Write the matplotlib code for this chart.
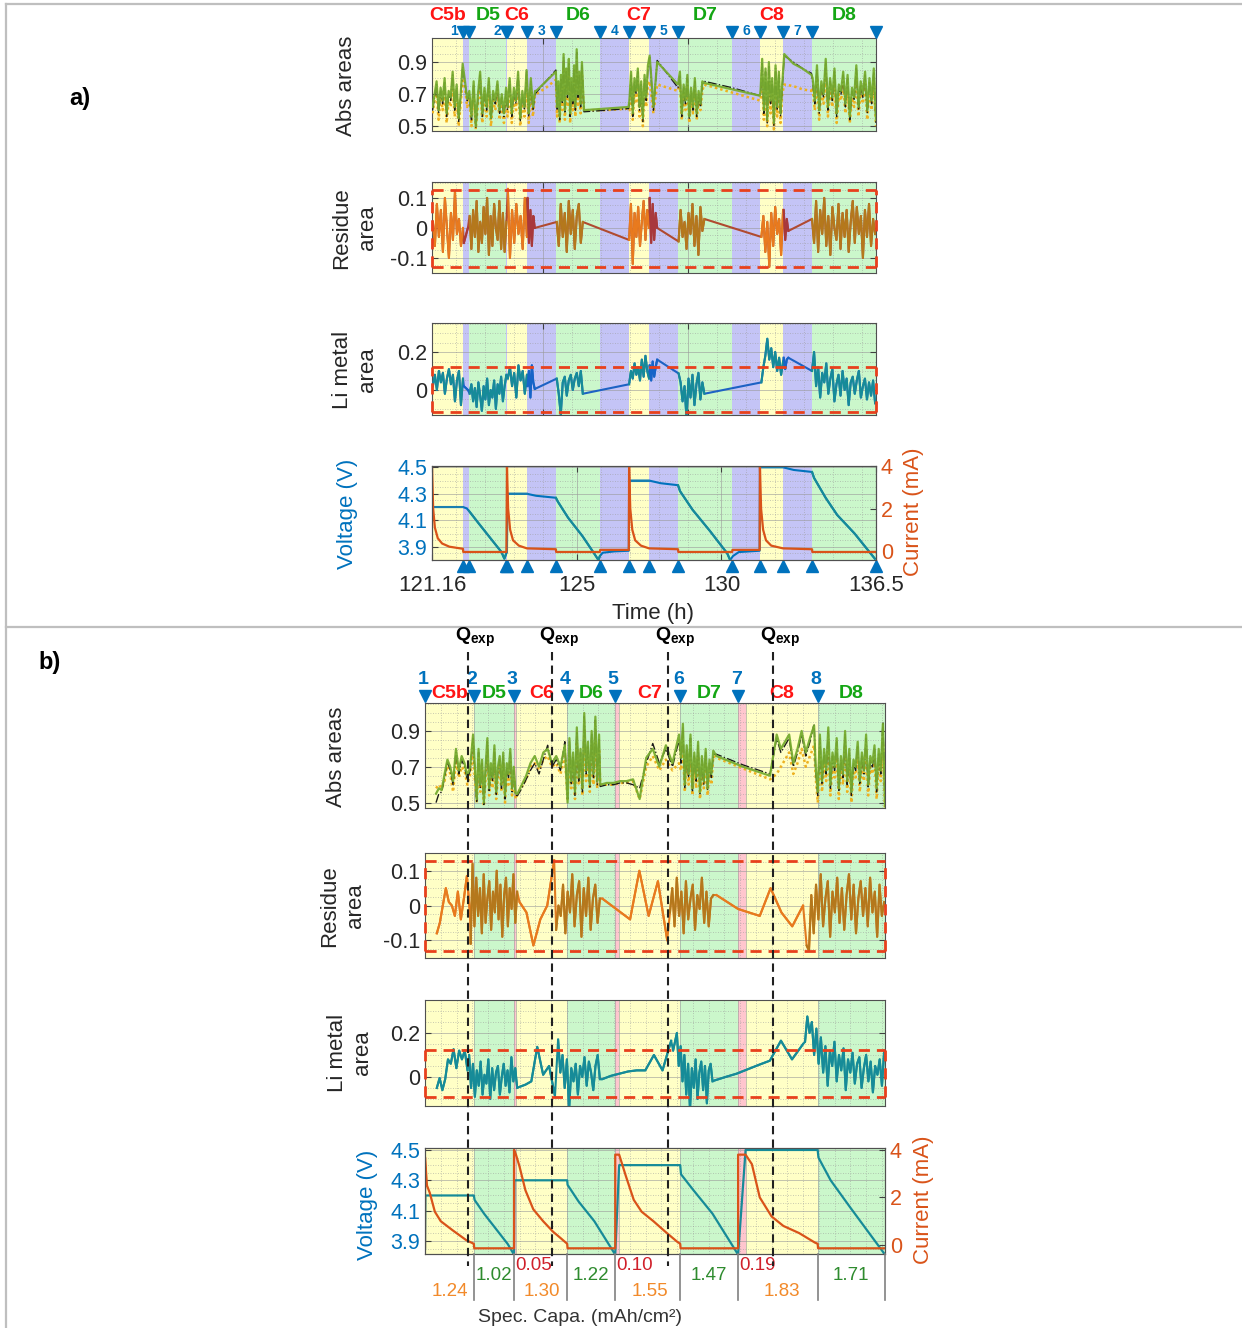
import numpy as np
import matplotlib
matplotlib.use("Agg")
import matplotlib.pyplot as plt
from matplotlib.ticker import AutoMinorLocator, MultipleLocator
from matplotlib import transforms as mtransforms

plt.rcParams['font.family'] = ['Liberation Sans', 'DejaVu Sans']
plt.rcParams['axes.unicode_minus'] = False
plt.rcParams['mathtext.fontset'] = 'custom'
plt.rcParams['mathtext.rm'] = 'Liberation Sans'
plt.rcParams['mathtext.bf'] = 'Liberation Sans:bold'

# ---------------- panel a) : time axis (h) ----------------
a_bounds = [121.16, 122.23, 122.44, 123.73, 123.75, 124.44, 125.44, 126.96,
            127.97, 128.66, 129.66, 131.53, 132.49, 133.29, 134.29, 136.5]
a_phases = ['C', 'R', 'D', 'R', 'C', 'R', 'D', 'R', 'C', 'R', 'D', 'R', 'C', 'R', 'D']
a_cycles = ['C5b', 'D5', 'C6', 'D6', 'C7', 'D7', 'C8', 'D8']
a_rest_labels = ['1', '2', '3', '4', '5', '6', '7']
a_tick_pos = [121.16, 126.16, 131.16, 136.5]
a_tick_lab = ['121.16', '125', '130', '136.5']

a_abs_span = [(121.18, 122.22), (122.30, 123.72), (123.77, 124.72), (124.76, 125.44),
              (125.48, 126.34), (126.41, 127.95), (127.98, 128.62), (128.68, 128.94),
              (129.66, 130.50), (130.56, 132.49), (132.51, 133.26), (133.33, 134.27),
              (134.31, 136.50)]
a_abs_green = [
    [0.62, 0.70, 0.78, 0.60, 0.74, 0.66, 0.80, 0.58, 0.72, 0.68, 0.84, 0.62, 0.76, 0.55, 0.70, 0.89],
    [0.78, 0.67, 0.72, 0.56, 0.78, 0.50, 0.70, 0.84, 0.58, 0.74, 0.62, 0.80, 0.55, 0.72, 0.66, 0.78, 0.60, 0.70, 0.58, 0.74],
    [0.62, 0.80, 0.58, 0.74, 0.66, 0.84, 0.55, 0.72, 0.62, 0.85, 0.58, 0.80, 0.62, 0.72],
    [0.72, 0.78, 0.84],
    [0.62, 0.78, 0.56, 0.82, 0.66, 0.95, 0.60, 0.86, 0.70, 0.92, 0.58, 0.80, 0.66, 0.88, 0.62, 0.98, 0.70, 0.84, 0.64, 0.90],
    [0.60, 0.61, 0.62],
    [0.66, 0.84, 0.58, 0.80, 0.72, 0.86, 0.62, 0.78, 0.55, 0.82, 0.68, 0.88],
    [0.94, 0.62, 0.90],
    [0.76, 0.84, 0.58, 0.76, 0.66, 0.82, 0.56, 0.74, 0.62, 0.80, 0.58, 0.72, 0.64, 0.78],
    [0.77, 0.73, 0.69],
    [0.72, 0.92, 0.60, 0.86, 0.54, 0.90, 0.66, 0.80, 0.52, 0.88, 0.62, 0.84, 0.58, 0.76],
    [0.95, 0.89, 0.86, 0.82],
    [0.80, 0.66, 0.88, 0.60, 0.78, 0.70, 0.92, 0.62, 0.80, 0.68, 0.86, 0.58, 0.76, 0.72, 0.84,
     0.64, 0.82, 0.56, 0.74, 0.68, 0.88, 0.62, 0.78, 0.70, 0.84, 0.60, 0.80, 0.66, 0.86, 0.54],
]
a_abs_black = [
    [0.60, 0.68, 0.76, 0.58, 0.72, 0.64, 0.78, 0.56, 0.70, 0.66, 0.82, 0.60, 0.74, 0.53, 0.68, 0.87],
    [0.77, 0.66, 0.70, 0.54, 0.76, 0.49, 0.68, 0.82, 0.56, 0.72, 0.60, 0.78, 0.54, 0.70, 0.64, 0.76, 0.58, 0.68, 0.56, 0.72],
    [0.60, 0.78, 0.56, 0.72, 0.64, 0.82, 0.53, 0.70, 0.60, 0.84, 0.56, 0.78, 0.60, 0.70],
    [0.71, 0.78, 0.85],
    [0.60, 0.76, 0.54, 0.80, 0.64, 0.93, 0.58, 0.84, 0.68, 0.90, 0.56, 0.78, 0.64, 0.86, 0.60, 0.96, 0.68, 0.82, 0.62, 0.88],
    [0.59, 0.60, 0.61],
    [0.64, 0.82, 0.56, 0.78, 0.70, 0.84, 0.60, 0.76, 0.53, 0.80, 0.66, 0.86],
    [0.93, 0.60, 0.91],
    [0.74, 0.82, 0.56, 0.74, 0.64, 0.80, 0.55, 0.72, 0.60, 0.78, 0.56, 0.70, 0.62, 0.76],
    [0.78, 0.74, 0.69],
    [0.70, 0.90, 0.58, 0.84, 0.52, 0.88, 0.64, 0.78, 0.50, 0.86, 0.60, 0.82, 0.56, 0.74],
    [0.94, 0.90, 0.86, 0.83],
    [0.78, 0.64, 0.86, 0.58, 0.76, 0.68, 0.90, 0.60, 0.78, 0.66, 0.84, 0.56, 0.74, 0.70, 0.82,
     0.62, 0.80, 0.54, 0.72, 0.66, 0.86, 0.60, 0.76, 0.68, 0.82, 0.58, 0.78, 0.64, 0.84, 0.52],
]
a_abs_orange = [
    [0.58, 0.66, 0.72, 0.54, 0.70, 0.60, 0.74, 0.52, 0.66, 0.62, 0.78, 0.56, 0.70, 0.50, 0.64, 0.80],
    [0.74, 0.62, 0.68, 0.50, 0.72, 0.48, 0.64, 0.78, 0.52, 0.70, 0.56, 0.74, 0.50, 0.66, 0.60, 0.72, 0.54, 0.64, 0.52, 0.68],
    [0.56, 0.74, 0.52, 0.68, 0.60, 0.78, 0.50, 0.66, 0.56, 0.76, 0.52, 0.72, 0.56, 0.70],
    [0.70, 0.74, 0.79],
    [0.56, 0.72, 0.52, 0.76, 0.60, 0.86, 0.54, 0.78, 0.62, 0.84, 0.52, 0.74, 0.60, 0.80, 0.56, 0.88, 0.62, 0.76, 0.58, 0.82],
    [0.60, 0.60, 0.61],
    [0.60, 0.76, 0.54, 0.72, 0.64, 0.78, 0.56, 0.72, 0.50, 0.74, 0.62, 0.76],
    [0.78, 0.58, 0.76],
    [0.72, 0.78, 0.54, 0.70, 0.60, 0.76, 0.52, 0.68, 0.58, 0.74, 0.54, 0.66, 0.60, 0.72],
    [0.76, 0.71, 0.66],
    [0.66, 0.80, 0.54, 0.76, 0.50, 0.78, 0.58, 0.72, 0.48, 0.76, 0.56, 0.74, 0.52, 0.70],
    [0.76, 0.75, 0.73, 0.72],
    [0.74, 0.60, 0.80, 0.54, 0.72, 0.64, 0.84, 0.56, 0.74, 0.62, 0.78, 0.52, 0.70, 0.66, 0.76,
     0.58, 0.74, 0.52, 0.68, 0.62, 0.80, 0.56, 0.72, 0.64, 0.78, 0.54, 0.74, 0.60, 0.78, 0.50],
]

a_line_span = [(121.19, 122.23), (122.26, 122.40), (122.46, 123.73), (123.78, 124.44),
               (124.46, 124.71), (125.47, 126.37), (127.97, 128.66), (128.68, 128.94),
               (129.68, 130.57), (132.54, 133.29), (133.31, 133.47), (134.29, 136.47)]
a_line_phase = ['C', 'R', 'D', 'C', 'R', 'D', 'C', 'R', 'D', 'C', 'R', 'D']
a_res = [
    [0.02, -0.06, 0.08, -0.03, 0.06, -0.08, 0.10, 0.00, -0.10, 0.05, -0.04, 0.12, -0.02, 0.03, -0.06, 0.00],
    [-0.05, 0.00],
    [0.04, -0.07, 0.06, -0.03, 0.09, -0.08, 0.02, -0.05, 0.07, -0.02, 0.10, -0.09, 0.04, -0.06, 0.08,
     0.00, -0.04, 0.09, -0.07, 0.05, -0.08, 0.02],
    [0.13, -0.10, 0.06, -0.05, 0.08, -0.02, 0.04, -0.07, 0.10, -0.03],
    [0.10, -0.05, 0.06, -0.06, 0.04, 0.00],
    [0.02, -0.06, 0.08, -0.03, 0.05, -0.08, 0.09, -0.02, 0.06, -0.07, 0.04, 0.08, -0.05, 0.02],
    [-0.04, 0.08, -0.12, 0.05, -0.03, 0.07, -0.06, 0.02, 0.09, -0.04, 0.06, 0.00],
    [0.10, -0.05, 0.08, -0.04, 0.05, 0.00],
    [-0.045, 0.06, -0.03, 0.02, -0.07, 0.05, -0.02, 0.08, -0.06, 0.04, -0.09, 0.07, -0.01, 0.03],
    [-0.03, 0.04, -0.08, 0.02, -0.13, 0.05, -0.06, 0.07, -0.02, 0.03, -0.09, 0.06],
    [0.06, -0.04, 0.03, -0.01],
    [0.03, -0.05, 0.09, -0.08, 0.06, -0.02, 0.10, -0.06, 0.04, -0.09, 0.07, 0.00, -0.04, 0.08, -0.07,
     0.05, -0.03, 0.06, -0.08, 0.02, 0.09, -0.05, 0.07, -0.02, 0.04, -0.10, 0.06, -0.03, 0.08, -0.06, 0.03, -0.02],
]
a_li = [
    [0.02, 0.08, 0.00, 0.10, 0.04, 0.09, -0.02, 0.06, 0.11, 0.03, 0.08, -0.06, 0.05, 0.10, -0.08, 0.06],
    [0.02, 0.00],
    [-0.02, 0.03, -0.06, 0.01, -0.09, 0.04, -0.03, -0.11, 0.02, -0.05, 0.06, -0.08, 0.00, -0.04, 0.05,
     -0.10, 0.03, -0.02, 0.07, -0.06, 0.02, 0.08],
    [0.06, 0.12, 0.02, 0.09, -0.04, 0.13, 0.05, 0.10, -0.02, 0.08],
    [0.02, 0.10, -0.04, 0.13, 0.04, 0.005],
    [0.06, -0.02, -0.13, 0.04, 0.07, -0.03, 0.05, 0.08, 0.00, 0.06, 0.09, 0.02, 0.10, -0.02],
    [0.03, 0.10, 0.06, 0.14, 0.08, 0.12, 0.05, 0.16, 0.07, 0.18, 0.10, 0.06],
    [0.13, 0.05, 0.15, 0.07, 0.12, 0.16],
    [0.087, 0.04, -0.06, 0.02, -0.15, 0.06, -0.04, 0.08, -0.08, 0.03, 0.09, -0.05, 0.04, -0.02],
    [0.04, 0.12, 0.18, 0.27, 0.16, 0.22, 0.12, 0.20, 0.10, 0.17, 0.08, 0.15],
    [0.17, 0.11, 0.16, 0.17],
    [0.10, 0.20, 0.02, 0.12, -0.04, 0.09, 0.04, 0.14, -0.02, 0.06, 0.11, -0.06, 0.03, 0.08, -0.03,
     0.10, 0.00, 0.06, -0.08, 0.04, 0.07, -0.02, 0.05, 0.10, -0.04, 0.02, 0.06, -0.05, 0.04, -0.03, 0.05, -0.07],
]

a_volt_t = [121.16, 122.23, 122.36, 122.44, 122.76, 123.16, 123.56, 123.66, 123.71, 123.75, 123.76,
            124.44, 124.76, 125.44, 125.51, 125.86, 126.36, 126.76, 126.91, 126.96, 127.06, 127.46,
            127.96, 127.97, 128.66, 129.06, 129.66, 129.73, 130.16, 130.76, 131.36, 131.46, 131.56,
            131.76, 132.48, 132.49, 133.29, 133.66, 134.29, 134.36, 134.76, 135.16, 135.76, 136.46]
a_volt_v = [4.20, 4.20, 4.19, 4.17, 4.08, 3.97, 3.86, 3.81, 3.84, 3.86, 4.30,
            4.30, 4.285, 4.27, 4.24, 4.12, 3.98, 3.85, 3.80, 3.83, 3.855, 3.865,
            3.87, 4.40, 4.40, 4.38, 4.365, 4.32, 4.18, 4.02, 3.85, 3.80, 3.83,
            3.86, 3.87, 4.50, 4.50, 4.48, 4.465, 4.42, 4.27, 4.14, 4.00, 3.81]
a_curr_t = [121.16, 121.20, 121.26, 121.36, 121.51, 121.76, 122.23, 122.24, 123.73,
            123.75, 123.79, 123.86, 123.96, 124.16, 124.44, 125.44, 125.45, 126.96, 126.97, 127.96,
            127.97, 128.01, 128.08, 128.18, 128.38, 128.66, 129.66, 129.67, 131.53, 131.54, 132.48,
            132.49, 132.53, 132.60, 132.70, 132.88, 133.29, 134.29, 134.30, 136.50]
a_curr_i = [4.0, 2.0, 1.1, 0.6, 0.35, 0.2, 0.1, -0.05, -0.05,
            4.0, 2.0, 1.0, 0.5, 0.25, 0.12, 0.08, -0.05, -0.05, 0.05, 0.05,
            4.0, 2.0, 1.0, 0.5, 0.25, 0.12, 0.08, -0.05, -0.05, 0.05, 0.05,
            4.0, 2.0, 1.0, 0.5, 0.25, 0.12, 0.08, -0.05, -0.05]

# ---------------- panel b) : specific capacity axis ----------------
b_cycles = ['C5b', 'D5', 'C6', 'D6', 'C7', 'D7', 'C8', 'D8']
b_charge_cap = [1.24, 1.30, 1.55, 1.83]
b_dis_cap = [1.02, 1.22, 1.47, 1.71]
b_cc_cap = [0.05, 0.10, 0.19]
b_qexp = [1.09, 3.22, 6.17, 8.83]

b_abs_span = [(0.28, 1.22), (1.27, 2.30), (2.35, 3.55), (3.62, 4.42), (4.45, 6.45),
              (6.50, 7.32), (7.40, 8.76), (8.93, 9.88), (9.92, 11.68)]
b_abs_green = [
    [0.55, 0.58, 0.57, 0.66, 0.74, 0.70, 0.62, 0.80, 0.68, 0.76, 0.72, 0.65, 0.70, 0.88],
    [0.68, 0.52, 0.80, 0.60, 0.74, 0.50, 0.70, 0.86, 0.58, 0.72, 0.64, 0.82, 0.56, 0.70, 0.76, 0.60,
     0.78, 0.54, 0.72, 0.66, 0.80, 0.58, 0.70, 0.55],
    [0.55, 0.60, 0.65, 0.72, 0.76, 0.70, 0.78, 0.80, 0.72, 0.76, 0.70, 0.82],
    [0.50, 0.86, 0.62, 0.78, 0.56, 0.92, 0.64, 0.80, 0.58, 1.00, 0.68, 0.84, 0.60, 0.90, 0.66, 0.98, 0.62, 0.88],
    [0.60, 0.61, 0.61, 0.62, 0.62, 0.63, 0.52, 0.75, 0.80, 0.70, 0.82, 0.72, 0.88],
    [0.75, 0.94, 0.60, 0.82, 0.66, 0.88, 0.58, 0.78, 0.64, 0.84, 0.56, 0.76, 0.62, 0.80, 0.58, 0.74, 0.66, 0.79],
    [0.76, 0.70, 0.65],
    [0.88, 0.80, 0.84, 0.88, 0.72, 0.80, 0.90, 0.78, 0.86, 0.93],
    [0.70, 0.56, 0.88, 0.62, 0.80, 0.68, 0.92, 0.60, 0.78, 0.70, 0.86, 0.58, 0.76, 0.66, 0.90, 0.62, 0.80,
     0.56, 0.74, 0.70, 0.84, 0.62, 0.78, 0.68, 0.88, 0.60, 0.76, 0.72, 0.82, 0.58, 0.80, 0.68, 0.94, 0.48],
]
b_abs_black = [
    [0.50, 0.55, 0.56, 0.64, 0.73, 0.68, 0.60, 0.78, 0.66, 0.74, 0.70, 0.63, 0.68, 0.86],
    [0.66, 0.50, 0.78, 0.58, 0.72, 0.49, 0.68, 0.84, 0.56, 0.70, 0.62, 0.80, 0.54, 0.68, 0.74, 0.58,
     0.76, 0.52, 0.70, 0.64, 0.78, 0.56, 0.68, 0.54],
    [0.54, 0.58, 0.63, 0.68, 0.72, 0.66, 0.74, 0.82, 0.70, 0.74, 0.68, 0.84],
    [0.52, 0.84, 0.60, 0.76, 0.54, 0.90, 0.62, 0.78, 0.56, 0.98, 0.66, 0.82, 0.58, 0.88, 0.64, 0.96, 0.60, 0.86],
    [0.59, 0.60, 0.60, 0.61, 0.61, 0.60, 0.58, 0.72, 0.83, 0.72, 0.80, 0.70, 0.85],
    [0.72, 0.92, 0.58, 0.80, 0.64, 0.86, 0.56, 0.76, 0.62, 0.82, 0.55, 0.74, 0.60, 0.78, 0.57, 0.72, 0.64, 0.77],
    [0.77, 0.71, 0.66],
    [0.86, 0.78, 0.82, 0.86, 0.70, 0.78, 0.88, 0.76, 0.84, 0.94],
    [0.68, 0.54, 0.86, 0.60, 0.78, 0.66, 0.90, 0.58, 0.76, 0.68, 0.84, 0.56, 0.74, 0.64, 0.88, 0.60, 0.78,
     0.54, 0.72, 0.68, 0.82, 0.60, 0.76, 0.66, 0.86, 0.58, 0.74, 0.70, 0.80, 0.56, 0.78, 0.66, 0.95, 0.50],
]
b_abs_orange = [
    [0.58, 0.60, 0.58, 0.62, 0.72, 0.66, 0.56, 0.74, 0.64, 0.70, 0.68, 0.60, 0.66, 0.78],
    [0.62, 0.50, 0.74, 0.56, 0.68, 0.48, 0.64, 0.78, 0.54, 0.66, 0.58, 0.74, 0.52, 0.64, 0.70, 0.56,
     0.72, 0.50, 0.66, 0.60, 0.74, 0.54, 0.64, 0.52],
    [0.55, 0.59, 0.63, 0.70, 0.72, 0.68, 0.74, 0.76, 0.70, 0.72, 0.66, 0.76],
    [0.52, 0.78, 0.58, 0.72, 0.52, 0.84, 0.60, 0.74, 0.54, 0.88, 0.62, 0.76, 0.56, 0.82, 0.60, 0.86, 0.58, 0.80],
    [0.60, 0.60, 0.60, 0.61, 0.61, 0.62, 0.52, 0.70, 0.76, 0.68, 0.74, 0.68, 0.72],
    [0.68, 0.82, 0.56, 0.74, 0.60, 0.78, 0.54, 0.70, 0.58, 0.76, 0.52, 0.68, 0.58, 0.72, 0.54, 0.68, 0.60, 0.76],
    [0.75, 0.69, 0.63],
    [0.66, 0.70, 0.74, 0.78, 0.66, 0.72, 0.80, 0.70, 0.76, 0.82],
    [0.64, 0.50, 0.80, 0.56, 0.72, 0.62, 0.84, 0.54, 0.70, 0.64, 0.78, 0.52, 0.70, 0.60, 0.82, 0.56, 0.74,
     0.50, 0.68, 0.64, 0.76, 0.56, 0.70, 0.62, 0.80, 0.54, 0.70, 0.66, 0.74, 0.52, 0.72, 0.62, 0.84, 0.46],
]

b_res_span = [(0.30, 1.14), (1.16, 2.34), (2.40, 3.28), (3.33, 4.44), (4.50, 6.15),
              (6.22, 7.32), (7.40, 9.60), (9.69, 11.66)]
b_res_phase = ['C', 'D', 'C', 'D', 'C', 'D', 'C', 'D']
b_res = [
    [-0.08, -0.05, 0.00, 0.05, 0.01, 0.00, -0.03, 0.04, -0.04, 0.02, 0.085, -0.02],
    [-0.11, 0.12, -0.06, 0.08, -0.03, 0.05, -0.08, 0.09, -0.05, 0.02, 0.07, -0.07, 0.04, -0.02, 0.10,
     -0.04, 0.06, -0.09, 0.03, 0.08, -0.06, 0.05, -0.01, 0.09, -0.05, 0.04],
    [0.01, -0.02, -0.115, -0.04, 0.00, 0.13],
    [-0.07, 0.00, -0.03, 0.06, -0.08, 0.04, -0.02, 0.09, -0.06, 0.03, 0.07, -0.09, 0.05, -0.03, 0.08,
     -0.07, 0.02, 0.06, -0.05, 0.02],
    [0.02, 0.00, -0.02, -0.04, 0.10, -0.03, 0.07, -0.10],
    [-0.02, 0.05, -0.06, 0.08, -0.03, 0.04, -0.08, 0.07, -0.04, 0.02, 0.06, -0.07, 0.03, -0.01, 0.08,
     -0.05, 0.04, -0.06, 0.02, 0.03],
    [0.03, 0.01, -0.01, -0.02, -0.03, 0.05, -0.02, -0.06, 0.00],
    [-0.115, -0.13, 0.03, -0.08, 0.06, -0.04, 0.09, -0.06, 0.02, 0.07, -0.09, 0.04, -0.02, 0.08, -0.05,
     0.05, -0.07, 0.03, 0.09, -0.04, 0.06, -0.08, 0.02, 0.07, -0.03, 0.05, -0.06, 0.08, -0.02, 0.04,
     -0.09, 0.06, -0.03, 0.01],
]
b_li_span = [(0.30, 1.08), (1.12, 2.34), (2.40, 3.30), (3.38, 4.44), (4.50, 6.25),
             (6.30, 7.30), (7.35, 9.60), (9.65, 11.66)]
b_li = [
    [-0.05, -0.005, -0.06, -0.01, 0.08, 0.06, 0.126, 0.04, 0.12, 0.08, 0.12, 0.03],
    [0.10, -0.05, 0.06, -0.09, 0.03, -0.04, 0.07, -0.08, 0.01, -0.03, 0.08, -0.10, 0.04, -0.06, 0.02,
     0.05, -0.08, 0.00, 0.06, -0.04, 0.03, -0.07, 0.09, -0.02, 0.04, -0.05],
    [-0.045, -0.035, -0.02, 0.137, 0.01, 0.05, -0.087],
    [0.17, 0.02, 0.10, -0.05, 0.08, -0.15, 0.04, -0.02, 0.06, -0.08, 0.05, 0.00, 0.09, -0.04, 0.07,
     0.02, -0.06, 0.05, 0.10, -0.01],
    [-0.01, 0.005, 0.015, 0.025, 0.03, 0.03, 0.10, 0.03, 0.165],
    [0.12, 0.16, 0.20, 0.05, 0.14, -0.02, 0.10, -0.08, 0.06, -0.15, 0.04, -0.05, 0.08, -0.10, 0.02,
     0.07, -0.06, 0.05, -0.12, 0.03, 0.06, -0.02],
    [-0.016, 0.00, 0.015, 0.035, 0.055, 0.074, 0.165, 0.08, 0.15],
    [0.16, 0.275, 0.20, 0.25, 0.10, 0.22, 0.06, 0.18, 0.02, 0.14, -0.04, 0.12, 0.05, 0.16, -0.02, 0.10,
     0.03, 0.13, -0.06, 0.08, 0.02, 0.11, -0.03, 0.06, 0.09, -0.05, 0.04, 0.10, -0.02, 0.07, -0.07,
     0.05, 0.01, 0.08, -0.04, 0.12],
]

b_volt_c = [0.0, 0.01, 1.24, 1.26, 1.50, 1.80, 2.10, 2.26, 2.27, 3.61, 3.62, 3.90, 4.30, 4.83,
            4.93, 6.48, 6.50, 6.80, 7.30, 7.95, 8.14, 9.97, 9.99, 10.30, 10.80, 11.68]
b_volt_v = [3.85, 4.20, 4.20, 4.17, 4.08, 3.98, 3.88, 3.81, 4.30, 4.30, 4.27, 4.16, 4.03, 3.81,
            4.40, 4.40, 4.34, 4.24, 4.08, 3.81, 4.50, 4.50, 4.45, 4.30, 4.12, 3.81]
b_curr_c = [0.0, 0.0, 0.05, 0.12, 0.25, 0.40, 0.70, 1.05, 1.24, 1.25, 2.26,
            2.26, 2.31, 2.40, 2.55, 2.75, 3.00, 3.25, 3.45, 3.61, 3.62, 4.83,
            4.83, 4.93, 5.10, 5.30, 5.50, 5.80, 6.10, 6.40, 6.48, 6.49, 7.95,
            7.95, 8.14, 8.30, 8.50, 8.80, 9.10, 9.50, 9.90, 9.97, 9.98, 11.68]
b_curr_i = [-0.1, 3.7, 2.5, 2.2, 1.4, 1.0, 0.62, 0.2, 0.05, -0.14, -0.14,
            4.0, 3.8, 3.3, 2.3, 1.5, 1.0, 0.56, 0.28, 0.05, -0.14, -0.14,
            3.8, 3.8, 2.9, 1.9, 1.4, 1.0, 0.56, 0.14, 0.05, -0.14, -0.14,
            3.8, 3.8, 3.4, 2.0, 1.2, 0.8, 0.5, 0.1, 0.05, -0.14, -0.14]

# ---------------- styling ----------------
W, H = 1242, 1328
SHADE = {'C': '#FFFFC6', 'D': '#CBF7CB', 'R': '#C4C4F6', 'P': '#FFC6CE'}
BLUE = '#0072BD'
ORANGE = '#D95319'
TEAL = '#168B98'
RED_TXT = '#FF1414'
GREEN_TXT = '#14A614'
THR = '#E8401C'
RES_COL = {'C': '#E87A1E', 'D': '#B4781C', 'R': '#A8383C'}
LI_COL = {'C': '#168B98', 'D': '#168B98', 'R': '#1664C8'}

fig = plt.figure(figsize=(W / 100, H / 100), dpi=100)


def add_ax(l, t, r, b):
    return fig.add_axes([l / W, 1 - b / H, (r - l) / W, (b - t) / H])


def seg_xy(spans, vals):
    xs = np.concatenate([np.linspace(s0, s1, len(v)) for (s0, s1), v in zip(spans, vals)])
    ys = np.concatenate([np.asarray(v, float) for v in vals])
    return xs, ys


def shade(ax, bounds, phases):
    for x0, x1, p in zip(bounds[:-1], bounds[1:], phases):
        ax.axvspan(x0, x1, color=SHADE[p], lw=0, zorder=0)


def style(ax, xlim, ylim, yticks, ylabs):
    ax.set_xlim(xlim)
    ax.set_ylim(ylim)
    ax.set_yticks(yticks)
    ax.set_yticklabels(ylabs)
    ax.yaxis.set_minor_locator(AutoMinorLocator(4))
    ax.set_axisbelow(True)
    ax.grid(True, which='major', color='#9A9A9A', lw=0.7, alpha=0.6)
    ax.grid(True, which='minor', color='#9A9A9A', lw=0.6, ls=(0, (1, 2)), alpha=0.7)
    ax.tick_params(which='major', direction='in', top=True, right=True, colors='#404040',
                   labelcolor='#262626', labelsize=15.5, length=4, width=0.8)
    ax.tick_params(which='minor', length=0)
    for s in ax.spines.values():
        s.set_color('#505050')
        s.set_linewidth(0.8)


def thr_box(ax, xlim, hi, lo):
    kw = dict(color=THR, lw=2.0, ls=(0, (4, 2.5)), zorder=5, clip_on=False)
    ax.plot(xlim, [hi, hi], **kw)
    ax.plot(xlim, [lo, lo], **kw)
    ax.plot([xlim[0], xlim[0]], [lo, hi], **kw)
    ax.plot([xlim[1], xlim[1]], [lo, hi], **kw)


def phase_lines(ax, spans, vals, phases, cmap, base, lw=1.5):
    xs, ys = seg_xy(spans, vals)
    ax.plot(xs, ys, color=base, lw=lw, zorder=3)
    for sp, v, p in zip(spans, vals, phases):
        ax.plot(np.linspace(sp[0], sp[1], len(v)), v, color=cmap[p], lw=lw, zorder=4)


def abs_lines(ax, spans, g, k, o):
    # dotted yellow underneath, dash-dot black, green solid on top
    x, y = seg_xy(spans, o)
    ax.plot(x, y, color='#EDB120', lw=1.8, ls=(0, (1, 1.2)), zorder=3)
    x, y = seg_xy(spans, k)
    ax.plot(x, y, color='#1A1A1A', lw=1.0, ls='-.', zorder=4)
    x, y = seg_xy(spans, g)
    ax.plot(x, y, color='#77AC30', lw=1.6, zorder=5, alpha=0.95)


def marks(ax, xs, y, m, ms=8):
    tr = mtransforms.blended_transform_factory(ax.transData, ax.transAxes)
    ax.plot(xs, [y] * len(xs), ls='none', marker=m, ms=ms, color=BLUE,
            transform=tr, clip_on=False, zorder=7)


# ---------------- a) panels ----------------
a_xlim = (a_bounds[0], a_bounds[-1])
axA = [add_ax(432, 38, 876, 131), add_ax(432, 182, 876, 273),
       add_ax(432, 323, 876, 415), add_ax(432, 466, 876, 560)]
for ax in axA:
    shade(ax, a_bounds, a_phases)
    ax.xaxis.set_minor_locator(MultipleLocator(1))

style(axA[0], a_xlim, (0.47, 1.05), [0.5, 0.7, 0.9], ['0.5', '0.7', '0.9'])
style(axA[1], a_xlim, (-0.15, 0.153), [-0.1, 0, 0.1], ['-0.1', '0', '0.1'])
style(axA[2], a_xlim, (-0.132, 0.353), [0, 0.2], ['0', '0.2'])
style(axA[3], a_xlim, (3.80, 4.51), [3.9, 4.1, 4.3, 4.5], ['3.9', '4.1', '4.3', '4.5'])
for ax in axA[:3]:
    ax.set_xticks([125, 130])
    ax.tick_params(labelbottom=False)

abs_lines(axA[0], a_abs_span, a_abs_green, a_abs_black, a_abs_orange)
phase_lines(axA[1], a_line_span, a_res, a_line_phase, RES_COL, '#B04A30')
thr_box(axA[1], a_xlim, 0.125, -0.13)
phase_lines(axA[2], a_line_span, a_li, a_line_phase, LI_COL, '#1D62C4')
thr_box(axA[2], a_xlim, 0.12, -0.115)

# voltage / current a)
va = axA[3]
va.set_xticks(a_tick_pos)
va.set_xticklabels(a_tick_lab)
va.tick_params(axis='x', labelsize=16, pad=11)
va.tick_params(axis='y', labelcolor=BLUE, right=False)
vt = np.array(a_volt_t)
vv = np.array(a_volt_v)
va.plot(vt, vv, color=BLUE, lw=1.5, zorder=3)
for x0, x1, p in zip(a_bounds[:-1], a_bounds[1:], a_phases):
    if p != 'R':
        m = (vt >= x0) & (vt <= x1)
        va.plot(vt[m], vv[m], color=TEAL if p == 'D' else '#1A7FB0', lw=1.5, zorder=4)
ca = va.twinx()
ca.plot(a_curr_t, a_curr_i, color=ORANGE, lw=1.6)
ca.set_ylim(-0.43, 4.02)
ca.set_yticks([0, 2, 4])
ca.set_yticklabels(['0', '2', '4'])
ca.tick_params(direction='in', colors='#404040', labelcolor=ORANGE, labelsize=15.5, length=4)
for s in ca.spines.values():
    s.set_color('#505050')
    s.set_linewidth(0.8)

# markers and phase labels a)
marks(axA[0], a_bounds[1:], 1 + 6 / 93, 'v')
marks(va, a_bounds[1:], -6 / 94, '^')
trA = mtransforms.blended_transform_factory(axA[0].transData, axA[0].transAxes)
k = 0
r = 0
for x0, x1, p in zip(a_bounds[:-1], a_bounds[1:], a_phases):
    if p == 'R':
        if x1 - x0 < 0.5:
            axA[0].text(x0, 1 + 7 / 93, a_rest_labels[r], color=BLUE, fontsize=10, fontweight='bold',
                        ha='right', va='center', clip_on=False,
                        transform=mtransforms.offset_copy(trA, fig=fig, x=-5, y=0, units='dots'))
        else:
            axA[0].text((x0 + x1) / 2, 1 + 7 / 93, a_rest_labels[r], color=BLUE, fontsize=10,
                        fontweight='bold', ha='center', va='center', transform=trA)
        r += 1
    else:
        axA[0].text((x0 + x1) / 2, 1 + 22 / 93, a_cycles[k], fontsize=14, fontweight='bold',
                    color=RED_TXT if p == 'C' else GREEN_TXT, ha='center', va='center', transform=trA)
        k += 1

# ---------------- b) panels ----------------
b_widths, b_phases = [], []
for i in range(4):
    b_widths.append(b_charge_cap[i]); b_phases.append('C')
    b_widths.append(b_dis_cap[i]); b_phases.append('D')
    if i < 3:
        b_widths.append(b_cc_cap[i]); b_phases.append('P')
b_bounds = np.concatenate([[0], np.cumsum(b_widths)])
b_xlim = (0, b_bounds[-1])

axB = [add_ax(425, 703, 885, 808), add_ax(425, 853, 885, 958),
       add_ax(425, 1000, 885, 1106), add_ax(425, 1148, 885, 1254)]
for ax in axB:
    shade(ax, b_bounds, b_phases)

style(axB[0], b_xlim, (0.47, 1.056), [0.5, 0.7, 0.9], ['0.5', '0.7', '0.9'])
style(axB[1], b_xlim, (-0.151, 0.151), [-0.1, 0, 0.1], ['-0.1', '0', '0.1'])
style(axB[2], b_xlim, (-0.132, 0.35), [0, 0.2], ['0', '0.2'])
style(axB[3], b_xlim, (3.814, 4.513), [3.9, 4.1, 4.3, 4.5], ['3.9', '4.1', '4.3', '4.5'])
for ax in axB:
    ax.set_xticks(b_bounds)
    ax.xaxis.set_minor_locator(MultipleLocator(0.4))
    ax.tick_params(axis='x', which='both', length=0, labelbottom=False)

abs_lines(axB[0], b_abs_span, b_abs_green, b_abs_black, b_abs_orange)
phase_lines(axB[1], b_res_span, b_res, b_res_phase, RES_COL, '#E07A20')
thr_box(axB[1], b_xlim, 0.128, -0.13)
phase_lines(axB[2], b_li_span, b_li, b_res_phase, LI_COL, TEAL)
thr_box(axB[2], b_xlim, 0.123, -0.09)

vb = axB[3]
vb.tick_params(axis='y', labelcolor=BLUE, right=False)
vb.plot(b_volt_c, b_volt_v, color=TEAL, lw=1.6, zorder=3)
cb = vb.twinx()
cb.plot(b_curr_c, b_curr_i, color=ORANGE, lw=1.6)
cb.set_ylim(-0.38, 4.08)
cb.set_yticks([0, 2, 4])
cb.set_yticklabels(['0', '2', '4'])
cb.tick_params(direction='in', colors='#404040', labelcolor=ORANGE, labelsize=15.5, length=4)
for s in cb.spines.values():
    s.set_color('#505050')
    s.set_linewidth(0.8)

# markers / labels b)
trB = mtransforms.blended_transform_factory(axB[0].transData, axB[0].transAxes)
b_mark = [b_bounds[i] for i, p in enumerate(b_phases) if p != 'C' or i == 0]
marks(axB[0], b_mark, 1 + 7 / 105, 'v', ms=8.5)
for i, x in enumerate(b_mark):
    axB[0].text(x, 1 + 23 / 105, str(i + 1), color=BLUE, fontsize=14, fontweight='bold',
                ha='center', va='center', clip_on=False,
                transform=mtransforms.offset_copy(trB, fig=fig, x=-2, y=0, units='dots'))
k = 0
for x0, x1, p in zip(b_bounds[:-1], b_bounds[1:], b_phases):
    if p in 'CD':
        axB[0].text((x0 + x1) / 2, 1 + 10 / 105, b_cycles[k], fontsize=14, fontweight='bold',
                    color=RED_TXT if p == 'C' else GREEN_TXT, ha='center', va='center', transform=trB)
        k += 1

# ---------------- overlay in pixel units ----------------
ov = fig.add_axes([0, 0, 1, 1])
ov.set_xlim(0, W)
ov.set_ylim(H, 0)
ov.axis('off')


def cx(c):
    return 425 + c / b_bounds[-1] * 460


# frame lines of the figure table
ov.plot([6, W], [4, 4], color='#BFBFBF', lw=1.6)
ov.plot([6, W], [627, 627], color='#BFBFBF', lw=1.6)
ov.plot([6, 6], [4, H], color='#BFBFBF', lw=1.6)

ov.text(80, 98, 'a)', fontsize=17, fontweight='bold', ha='center', va='center')
ov.text(50, 662, 'b)', fontsize=17, fontweight='bold', ha='center', va='center')

lab = dict(rotation=90, ha='center', va='center', fontsize=16, color='#262626', linespacing=1.3)
ov.text(347, 86, 'Abs areas', **lab)
ov.text(355, 228, 'Residue\narea', **lab)
ov.text(355, 370, 'Li metal\narea', **lab)
ov.text(347, 514, 'Voltage (V)', **{**lab, 'color': BLUE})
ov.text(913, 512, 'Current (mA)', **{**lab, 'color': ORANGE})
ov.text(653, 613, 'Time (h)', fontsize=16, color='#262626', ha='center', va='center')
ov.text(337, 757, 'Abs areas', **lab)
ov.text(343, 906, 'Residue\narea', **lab)
ov.text(350, 1053, 'Li metal\narea', **lab)
ov.text(368, 1205, 'Voltage (V)', **{**lab, 'color': BLUE})
ov.text(924, 1200, 'Current (mA)', **{**lab, 'color': ORANGE})
ov.text(580, 1318, 'Spec. Capa. (mAh/cm²)', fontsize=14, color='#333333', ha='center', va='center')

# Q_exp markers
for q in b_qexp:
    ov.plot([cx(q), cx(q)], [652, 1266], color='#202020', lw=1.5, ls=(0, (4, 2.5)), zorder=8)
    ov.text(cx(q) + 7, 637, r'$\mathbf{Q}_{\mathbf{exp}}$', fontsize=14, ha='center', va='center')

# capacity separators and values under panel b)
ci = di = pi = 0
for x0, x1, p in zip(b_bounds[:-1], b_bounds[1:], b_phases):
    if p == 'C':
        ov.plot([cx(x1), cx(x1)], [1254, 1300], color='#808080', lw=1.2)
        ov.text(cx((x0 + x1) / 2), 1291, f'{b_charge_cap[ci]:.2f}', color='#F28A2A',
                fontsize=13.5, ha='center', va='center')
        ci += 1
    elif p == 'D':
        ov.plot([cx(x1), cx(x1)], [1254, 1300], color='#808080', lw=1.2)
        ov.text(cx((x0 + x1) / 2), 1275, f'{b_dis_cap[di]:.2f}', color='#2E8B2E',
                fontsize=13.5, ha='center', va='center')
        di += 1
    else:
        ov.text(cx(x0) + 1, 1265, f'{b_cc_cap[pi]:.2f}', color='#D0202A',
                fontsize=13.5, ha='left', va='center')
        pi += 1

fig.savefig('out.png', dpi=100)
